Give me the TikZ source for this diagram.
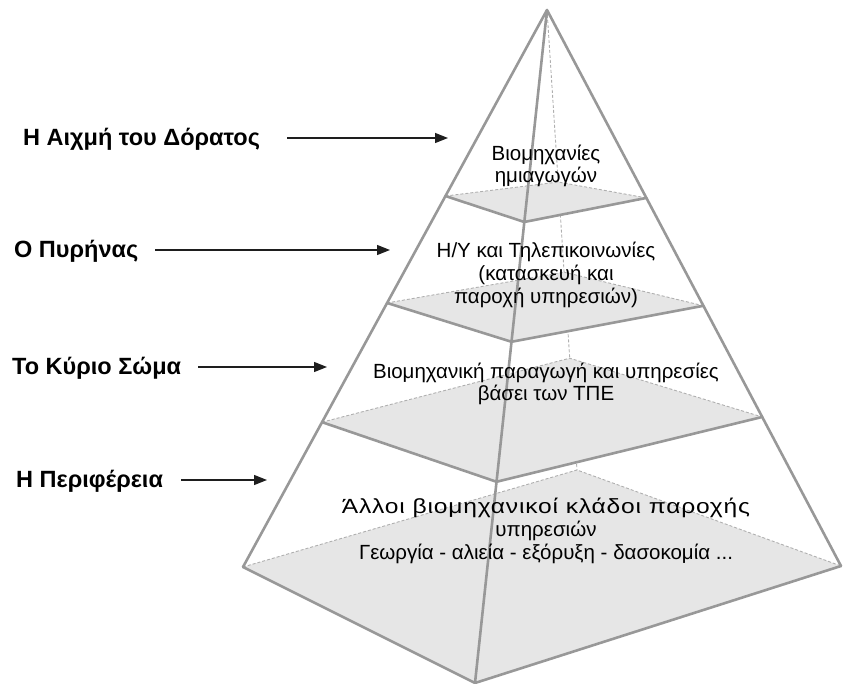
\documentclass[tikz,border=0pt]{standalone}
\usepackage{fontspec}
\setmainfont{Liberation Sans}
\newfontfamily\widefont[FakeStretch=1.2,LetterSpace=4]{Liberation Sans}
\usetikzlibrary{calc,arrows.meta}
\definecolor{pyr}{RGB}{152,152,152}
\definecolor{planec}{RGB}{230,230,230}
\definecolor{hid}{RGB}{175,175,175}
\definecolor{arrc}{RGB}{30,30,30}
\begin{document}
\begin{tikzpicture}[x=1pt,y=-1pt,
  edge/.style={draw=pyr, line width=2.6pt, line join=round, line cap=round},
  hidden/.style={draw=hid, line width=0.9pt, dash pattern=on 3pt off 2pt},
  plane/.style={fill=planec},
  lbl/.style={font=\fontsize{23.5}{27}\selectfont\bfseries, text=black, inner sep=0pt, anchor=base west},
  txt/.style={font=\fontsize{20.5}{22.8}\selectfont, align=center, inner sep=0pt, text=black},
  arr/.style={draw=arrc, line width=1.4pt, -{Triangle[length=13pt,width=10pt]}}]
\useasboundingbox (0,0) rectangle (844,684);
% pyramid corners
\coordinate (A) at (547,10);
\coordinate (L) at (243,567);
\coordinate (F) at (475,683);
\coordinate (R) at (841,566);
\coordinate (B) at (577,470);
% cut 1
\coordinate (L1) at ($(A)!0.334!(L)$);
\coordinate (F1) at ($(A)!0.315!(F)$);
\coordinate (R1) at ($(A)!0.338!(R)$);
\coordinate (B1) at ($(A)!0.374!(B)$);
% cut 2
\coordinate (L2) at ($(A)!0.526!(L)$);
\coordinate (F2) at ($(A)!0.493!(F)$);
\coordinate (R2) at ($(A)!0.532!(R)$);
\coordinate (B2) at ($(A)!0.570!(B)$);
% cut 3
\coordinate (L3) at ($(A)!0.740!(L)$);
\coordinate (F3) at ($(A)!0.701!(F)$);
\coordinate (R3) at ($(A)!0.732!(R)$);
\coordinate (B3) at ($(A)!0.757!(B)$);
% hidden back edge
\draw[hidden] (A) -- (B);
% planes
\foreach \i in {1,2,3}{
  \fill[plane] (L\i) -- (F\i) -- (R\i) -- (B\i) -- cycle;
  \draw[hidden] (L\i) -- (B\i) -- (R\i);
  \draw[edge] (L\i) -- (F\i) -- (R\i);
}
\fill[plane] (L) -- (F) -- (R) -- (B) -- cycle;
\draw[hidden] (L) -- (B) -- (R);
\draw[edge] (L) -- (F) -- (R);
% visible edges
\draw[edge] (A) -- (L);
\draw[edge] (A) -- (R);
\draw[edge] (A) -- (F);
% texts in the pyramid
\node[txt] (t1) at (546,166) {Βιομηχανίες\\ημιαγωγών};
\node[txt] (t2) at (546,275) {Η/Υ και Τηλεπικοινωνίες\\(κατασκευή και\\παροχή υπηρεσιών)};
\node[txt] (t3) at (546,384) {Βιομηχανική παραγωγή και υπηρεσίες\\βάσει των ΤΠΕ};
\node[txt] (t4) at (546,531) {{\widefont Άλλοι βιομηχανικοί κλάδοι παροχής}\\υπηρεσιών\\Γεωργία - αλιεία - εξόρυξη - δασοκομία ...};
% labels
\node[lbl] (l1) at (23,146) {Η Αιχμή του Δόρατος};
\node[lbl] (l2) at (14,258) {Ο Πυρήνας};
\node[lbl] (l3) at (12,375) {Το Κύριο Σώμα};
\node[lbl] (l4) at (16,488) {Η Περιφέρεια};
\coordinate (e1) at (448,138);
\coordinate (e2) at (390,250);
\coordinate (e3) at (327,367);
\coordinate (e4) at (267,480);
\draw[arr, shorten <=27pt] (l1.east |- e1) -- (e1);
\draw[arr, shorten <=17pt] (l2.east |- e2) -- (e2);
\draw[arr, shorten <=17pt] (l3.east |- e3) -- (e3);
\draw[arr, shorten <=18pt] (l4.east |- e4) -- (e4);
\end{tikzpicture}
\end{document}
